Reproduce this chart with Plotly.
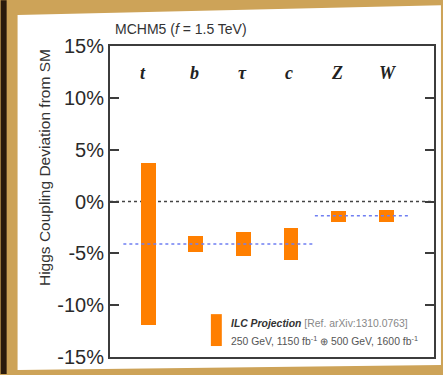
import plotly.graph_objects as go

# ---- data ----
categories = ["t", "b", "τ", "c", "Z", "W"]
cat_pos = [1, 2, 3, 4, 5, 6]
upper = [3.7, -3.3, -2.9, -2.6, -0.9, -0.85]
lower = [-11.9, -4.9, -5.3, -5.65, -1.93, -2.0]
ref_level = [-4.1, -1.38]
ref_start = [0.48, 4.5]
ref_end = [4.5, 6.48]
y_ticks = [-15, -10, -5, 0, 5, 10, 15]
y_tick_text = [f"{v}%" for v in y_ticks]
label_dx = [-0.1, -0.02, -0.02, -0.04, -0.04, 0.04]

W, H = 443, 375
L, R, T, B = 110, 7, 46, 17
PW, PH = W - L - R, H - T - B


def px(x):
    return (x - L) / PW


def py(y):
    return (H - B - y) / PH


fig = go.Figure()

fig.add_trace(go.Bar(
    x=cat_pos, y=[u - l for u, l in zip(upper, lower)], base=lower,
    width=0.31, marker=dict(color="#FF7F00", line=dict(width=0)),
    showlegend=False, hoverinfo="skip"))

for lv, xs, xe in zip(ref_level, ref_start, ref_end):
    fig.add_trace(go.Scatter(
        x=[xs, xe], y=[lv, lv], mode="lines",
        line=dict(color="#6F7FF2", width=1.6, dash="dot"),
        showlegend=False, hoverinfo="skip"))

shapes = [
    dict(type="rect", xref="paper", yref="paper", x0=px(0), x1=px(6),
         y0=py(375), y1=py(0), fillcolor="#2A1A0C", line_width=0, layer="below"),
    dict(type="path", xref="paper", yref="paper",
         path=f"M {px(17)},{py(15)} L {px(443)},{py(5)} L {px(443)},{py(366)} L {px(17)},{py(371)} Z",
         fillcolor="white", line_width=0, layer="below"),
    dict(type="line", xref="paper", yref="y", x0=0, x1=1, y0=0, y1=0,
         line=dict(color="#444444", width=1.6, dash="dot"), layer="below"),
    dict(type="rect", xref="paper", yref="paper", x0=px(211.5), x1=px(222.5),
         y0=py(347), y1=py(315), fillcolor="#FF7F00", line_width=0),
]

annotations = []
for name, xp, dx in zip(categories, cat_pos, label_dx):
    annotations.append(dict(
        x=xp + dx, y=12.4, xref="x", yref="y", showarrow=False,
        xanchor="center", yanchor="middle",
        text=f"<b><i>{name}</i></b>",
        font=dict(family="Liberation Serif", size=18, color="#222222")))

annotations += [
    dict(x=px(113), y=py(29), xref="paper", yref="paper", xanchor="left",
         yanchor="middle", showarrow=False, text="MCHM5 (<i>f</i> = 1.5 TeV)",
         font=dict(family="Liberation Sans", size=14, color="#333333")),
    dict(x=px(44), y=py(168), xref="paper", yref="paper", textangle=-90,
         xanchor="center", yanchor="middle",
         showarrow=False, text="Higgs Coupling Deviation from SM",
         font=dict(family="Liberation Sans", size=15.5, color="#333333")),
    dict(x=px(230), y=py(324), xref="paper", yref="paper", xanchor="left",
         yanchor="middle", showarrow=False,
         text="<b><i>ILC Projection</i></b> <span style='color:#888888'>[Ref. arXiv:1310.0763]</span>",
         font=dict(family="Liberation Sans", size=10.4, color="#333333")),
    dict(x=px(230), y=py(341), xref="paper", yref="paper", xanchor="left",
         yanchor="middle", showarrow=False,
         text="250 GeV, 1150 fb<sup>-1</sup> ⊕ 500 GeV, 1600 fb<sup>-1</sup>",
         font=dict(family="Liberation Sans", size=10.4, color="#555555")),
]

fig.update_layout(
    width=W, height=H,
    margin=dict(l=L, r=R, t=T, b=B, pad=0),
    paper_bgcolor="#CDA358", plot_bgcolor="white",
    shapes=shapes, annotations=annotations,
    xaxis=dict(range=[0.2, 7.0], showticklabels=False, ticks="",
               showgrid=False, zeroline=False, showline=True, mirror=True,
               linecolor="#3C3C3C", linewidth=2, fixedrange=True),
    yaxis=dict(range=[-15, 15], tickvals=y_ticks, ticktext=y_tick_text,
               ticks="inside", ticklen=9, tickwidth=2, tickcolor="#3C3C3C",
               showgrid=False, zeroline=False, showline=True, mirror="ticks",
               linecolor="#3C3C3C", linewidth=2,
               tickfont=dict(family="Liberation Sans", size=20, color="#2A2A2A"),
               fixedrange=True),
    bargap=0,
)

fig.write_html("out.html")
